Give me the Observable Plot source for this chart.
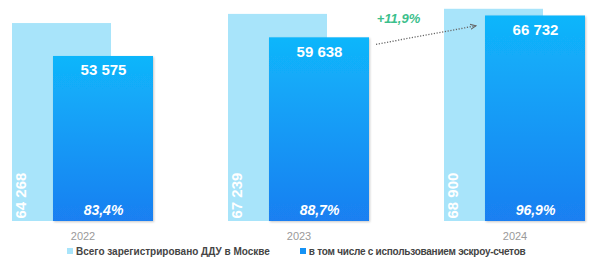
<!DOCTYPE html>
<html>
<head>
<meta charset="utf-8">
<script src="https://cdn.jsdelivr.net/npm/d3@7"></script>
<script src="https://cdn.jsdelivr.net/npm/@observablehq/plot@0.6"></script>
<style>
  html, body { margin: 0; padding: 0; background: #fff; }
  #chart { width: 600px; height: 260px; position: relative; overflow: hidden; }
  .legend { display: flex; align-items: center; height: 18px; padding-left: 67px;
            font-family: "Liberation Sans", Arial, sans-serif; font-size: 10px; font-weight: bold; color: #444; }
  .legend .item { display: flex; align-items: center; white-space: nowrap; }
  .legend .item:first-child { margin-right: 30px; }
  .legend .item:last-child span:last-child { letter-spacing: -0.25px; }
  .legend .sw { width: 6px; height: 6px; margin-right: 3px; }
</style>
</head>
<body>
<div id="chart"></div>
<script>
const years = ["2022", "2023", "2024"];
const totalDDU = [64268, 67239, 68900];
const escrowDDU = [53575, 59638, 66732];
const seriesNames = ["Всего зарегистрировано ДДУ в Москве", "в том числе с использованием эскроу-счетов"];
const seriesColors = ["#a8e4fa", "#1592f5"];

const loc = d3.formatLocale({decimal: ",", thousands: "\u00a0", grouping: [3], currency: ["", ""]});
const fmtNum = loc.format(",d");
const fmtPct = loc.format(".1%");
const fmtGrowth = loc.format("+.1%");

const data = years.map((year, i) => ({
  year, total: totalDDU[i], escrow: escrowDDU[i], share: escrowDDU[i] / totalDDU[i]
}));
const growth = escrowDDU[2] / escrowDDU[1] - 1;

const defs = () => {
  const d = d3.create("svg:defs");
  const g = d.append("linearGradient").attr("id", "escrowGrad").attr("x1", 0).attr("y1", 0).attr("x2", 0).attr("y2", 1);
  g.append("stop").attr("offset", "0%").attr("stop-color", "#10b6fb");
  g.append("stop").attr("offset", "100%").attr("stop-color", "#1a7ff1");
  const f = d.append("filter").attr("id", "barShadow").attr("x", "-5%").attr("y", "-5%").attr("width", "115%").attr("height", "115%");
  f.append("feDropShadow").attr("dx", 1).attr("dy", 1).attr("stdDeviation", 1).attr("flood-color", "#000").attr("flood-opacity", 0.22);
  const m = d.append("marker").attr("id", "arrowHead").attr("viewBox", "0 0 10 10").attr("refX", 9).attr("refY", 5)
    .attr("markerWidth", 5).attr("markerHeight", 5).attr("orient", "auto");
  m.append("path").attr("d", "M0,1 L9,5 L0,9").attr("fill", "none").attr("stroke", "#666").attr("stroke-width", 1.6);
  return d.node();
};

const plot = Plot.plot({
  width: 600,
  height: 242,
  marginTop: 0,
  marginBottom: 21,
  marginLeft: 11,
  marginRight: 13,
  style: {fontFamily: "'Liberation Sans', Arial, sans-serif", background: "#fff"},
  x: {type: "band", domain: years, paddingInner: 0.3456, paddingOuter: 0, label: null},
  y: {domain: [0, 71750], axis: null},
  marks: [
    defs,
    Plot.barY(data, {x: "year", y: "total", fill: seriesColors[0], insetRight: 42}),
    Plot.barY(data, {x: "year", y: "escrow", fill: "url(#escrowGrad)", insetLeft: 41}),
    Plot.text(data, {x: "year", y: "escrow", text: d => fmtNum(d.escrow), dx: 20.5, dy: 14,
      fill: "#fff", fontSize: 15, fontWeight: "bold"}),
    Plot.text(data, {x: "year", y: 0, text: d => fmtPct(d.share), dx: 20.5, dy: -11,
      fill: "#fff", fontSize: 14, fontWeight: "bold", fontStyle: "italic"}),
    Plot.text(data, {x: "year", y: 0, text: d => fmtNum(d.total), dx: -61.5, dy: -3,
      rotate: -90, textAnchor: "start", fill: "#fff", fontSize: 15, fontWeight: "bold"}),
    Plot.axisX({tickSize: 0, tickPadding: 11, fontSize: 11, color: "#9a9a9a", label: null})
  ]
});

// dark bars shadow
const barGroups = plot.querySelectorAll('g[aria-label="bar"]');
if (barGroups[1]) barGroups[1].setAttribute("filter", "url(#barShadow)");

// growth annotation anchored to scales
const xs = plot.scale("x"), ys = plot.scale("y");
const bw = xs.bandwidth;
const x1 = xs.apply("2023") + bw + 7, y1 = ys.apply(escrowDDU[1]) + 7;
const x2 = xs.apply("2024") + 32, y2 = ys.apply(totalDDU[2]) + 17;
const svg = d3.select(plot);
svg.append("line").attr("x1", x1).attr("y1", y1).attr("x2", x2).attr("y2", y2)
  .attr("stroke", "#666").attr("stroke-width", 1.3).attr("stroke-dasharray", "1.2,1.6")
  .attr("marker-end", "url(#arrowHead)");
svg.append("text").attr("x", (xs.apply("2023") + bw + xs.apply("2024")) / 2 - 8).attr("y", 20)
  .attr("text-anchor", "middle").attr("dominant-baseline", "middle")
  .attr("fill", "#3cbf8c").attr("font-size", 13).attr("font-weight", "bold").attr("font-style", "italic")
  .text(fmtGrowth(growth));

const chart = document.getElementById("chart");
chart.appendChild(plot);

const legend = document.createElement("div");
legend.className = "legend";
seriesNames.forEach((name, i) => {
  const item = document.createElement("div");
  item.className = "item";
  const sw = document.createElement("span");
  sw.className = "sw";
  sw.style.background = seriesColors[i];
  const t = document.createElement("span");
  t.textContent = name;
  item.appendChild(sw); item.appendChild(t);
  legend.appendChild(item);
});
chart.appendChild(legend);
</script>
</body>
</html>
